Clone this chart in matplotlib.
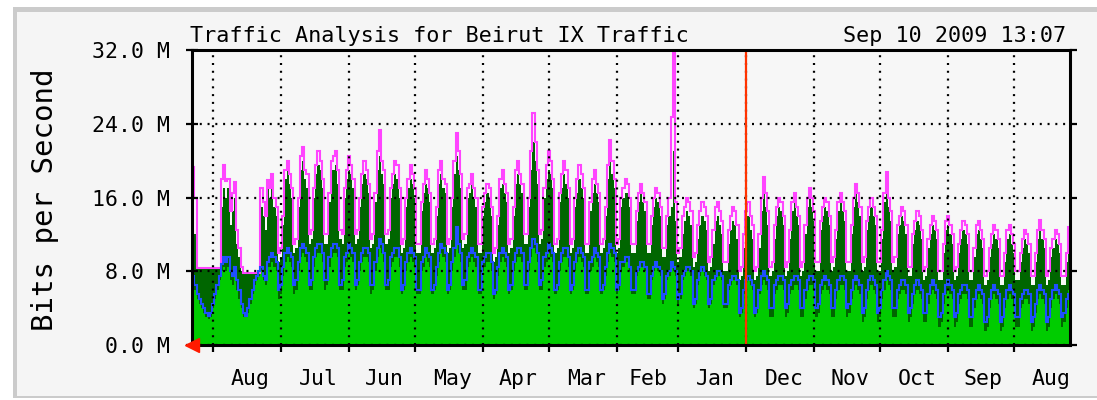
import numpy as np
import matplotlib
matplotlib.use("Agg")
import matplotlib.pyplot as plt
import matplotlib.dates as mdates
from matplotlib.ticker import NullFormatter, FixedLocator
from matplotlib.patches import Rectangle
from datetime import datetime

# ---- data: daily values in Mbit/s, newest day first (left of the chart) ----
max_out = [
    19.3, 16.0, 8.3, 8.3, 8.3, 8.3, 8.3,
    8.3, 8.3, 8.3, 8.3, 8.3, 8.3, 18.0,
    19.5, 17.8, 18.0, 14.5, 16.5, 17.7, 12.5,
    10.5, 8.5, 7.8, 7.8, 7.8, 7.8, 7.8,
    7.8, 7.8, 7.8, 17.0, 15.5, 14.0, 17.9,
    17.0, 18.5, 16.0, 15.0, 10.0, 10.5, 14.0,
    19.0, 20.0, 18.5, 17.0, 11.0, 11.5, 16.0,
    20.5, 21.5, 19.0, 18.5, 12.0, 12.5, 17.0,
    19.5, 21.0, 20.0, 18.0, 12.0, 12.0, 16.5,
    20.0, 20.5, 21.0, 19.0, 12.5, 12.0, 17.0,
    19.0, 20.5, 19.5, 18.0, 12.0, 12.5, 16.0,
    18.5, 20.0, 19.0, 17.5, 11.5, 12.0, 16.5,
    21.0, 23.3, 20.0, 19.0, 12.0, 12.5, 17.0,
    18.5, 20.0, 19.5, 17.0, 11.0, 11.5, 16.0,
    18.0, 19.5, 18.5, 17.0, 11.0, 11.0, 15.5,
    17.5, 19.0, 18.0, 16.5, 11.0, 11.5, 15.0,
    19.0, 20.0, 18.0, 17.5, 11.0, 11.5, 16.0,
    20.0, 23.0, 21.0, 18.5, 11.5, 12.0, 17.0,
    17.5, 18.5, 17.0, 16.0, 11.0, 11.0, 15.0,
    16.5, 17.5, 17.0, 15.0, 10.0, 10.5, 14.0,
    18.0, 19.0, 17.5, 16.5, 11.0, 11.5, 15.0,
    19.0, 20.0, 18.5, 17.5, 12.0, 12.0, 16.0,
    21.0, 25.2, 22.0, 19.0, 12.0, 12.5, 17.0,
    19.5, 21.0, 20.0, 18.0, 11.0, 11.5, 16.5,
    18.5, 20.0, 19.0, 17.0, 11.0, 11.5, 16.0,
    18.0, 19.5, 18.5, 17.0, 11.0, 11.0, 15.5,
    18.0, 19.0, 17.5, 16.5, 11.0, 11.5, 15.0,
    19.5, 22.2, 20.0, 18.0, 11.0, 11.5, 16.0,
    17.0, 18.0, 17.5, 16.0, 11.0, 11.0, 14.5,
    16.5, 17.5, 16.5, 15.5, 11.0, 11.0, 14.0,
    16.0, 17.0, 16.5, 15.0, 10.5, 10.5, 14.0,
    16.0, 24.7, 32.0, 15.5, 10.0, 10.5, 14.0,
    15.0, 16.0, 15.5, 14.5, 9.5, 10.0, 13.0,
    14.5, 15.5, 15.0, 14.0, 9.0, 9.5, 12.5,
    15.0, 15.5, 14.5, 13.5, 9.0, 9.0, 12.5,
    14.0, 15.0, 14.5, 13.0, 8.0, 8.5, 12.0,
    14.5, 15.5, 14.0, 13.0, 8.0, 8.5, 12.0,
    16.0, 18.2, 16.5, 14.5, 8.5, 9.0, 13.0,
    15.0, 16.0, 15.5, 14.0, 8.5, 9.0, 12.5,
    15.5, 16.5, 15.0, 14.0, 8.5, 9.0, 13.0,
    16.0, 17.0, 16.0, 14.5, 9.0, 9.0, 13.5,
    15.0, 16.0, 15.5, 14.0, 9.0, 9.5, 12.5,
    15.5, 16.5, 15.5, 14.5, 9.0, 9.0, 13.0,
    16.0, 17.5, 16.5, 15.0, 9.0, 9.5, 13.5,
    15.0, 16.0, 15.0, 14.0, 9.0, 9.0, 12.5,
    16.5, 18.8, 16.0, 14.5, 9.0, 9.5, 13.0,
    14.0, 15.0, 14.5, 13.0, 8.5, 8.5, 12.0,
    13.5, 14.5, 14.0, 12.5, 8.0, 8.5, 11.5,
    13.0, 14.0, 13.5, 12.5, 8.0, 8.0, 11.0,
    13.5, 14.0, 13.0, 12.0, 8.0, 8.5, 11.0,
    12.5, 13.5, 13.0, 12.0, 8.0, 8.0, 10.5,
    13.0, 13.5, 12.5, 11.5, 7.5, 8.0, 10.5,
    12.0, 13.0, 12.5, 11.5, 7.5, 7.5, 10.0,
    12.5, 13.0, 12.0, 11.0, 8.0, 8.0, 10.0,
    11.5, 12.5, 12.0, 11.0, 7.5, 7.5, 10.0,
    12.5, 13.6, 12.5, 11.5, 7.5, 8.0, 10.5,
    11.5, 12.5, 12.0, 11.0, 7.5, 7.5, 10.0,
    12.8,
]

max_in = [
    13.3, 12.0, 8.3, 8.3, 8.3, 8.3, 8.3,
    8.3, 8.3, 8.3, 8.3, 8.3, 8.3, 15.0,
    17.0, 16.0, 17.0, 13.0, 14.5, 16.0, 11.0,
    9.5, 8.0, 7.8, 7.8, 7.8, 7.8, 7.8,
    7.8, 7.8, 7.8, 15.0, 14.0, 12.5, 17.0,
    16.0, 17.5, 15.0, 14.0, 9.0, 9.5, 13.0,
    18.0, 19.0, 17.5, 16.0, 10.0, 10.5, 15.0,
    19.0, 20.0, 18.0, 17.0, 11.0, 11.5, 16.0,
    18.5, 19.5, 19.0, 17.0, 11.0, 11.0, 15.5,
    19.0, 19.0, 19.5, 17.5, 11.5, 11.0, 16.0,
    18.0, 19.0, 18.5, 17.0, 11.0, 11.5, 15.0,
    17.5, 18.5, 18.0, 16.5, 10.5, 11.0, 15.5,
    19.0, 20.5, 18.5, 17.5, 11.0, 11.5, 16.0,
    17.5, 18.5, 18.0, 16.0, 10.0, 10.5, 15.0,
    17.0, 18.0, 17.5, 16.0, 10.0, 10.0, 14.5,
    16.5, 17.5, 17.0, 15.5, 10.0, 10.5, 14.0,
    17.5, 18.5, 17.0, 16.5, 10.0, 10.5, 15.0,
    18.5, 20.5, 19.0, 17.0, 10.5, 11.0, 16.0,
    16.5, 17.5, 16.0, 15.0, 10.0, 10.0, 14.0,
    15.5, 16.5, 16.0, 14.0, 9.0, 9.5, 13.0,
    17.0, 17.5, 16.5, 15.5, 10.0, 10.5, 14.0,
    17.5, 18.5, 17.5, 16.5, 11.0, 11.0, 15.0,
    19.0, 22.0, 20.0, 17.5, 11.0, 11.5, 16.0,
    18.0, 19.0, 18.5, 17.0, 10.0, 10.5, 15.5,
    17.0, 18.5, 17.5, 16.0, 10.0, 10.5, 15.0,
    16.5, 18.0, 17.0, 16.0, 10.0, 10.0, 14.5,
    16.5, 17.5, 16.5, 15.5, 10.0, 10.5, 14.0,
    18.0, 20.0, 18.5, 17.0, 10.0, 10.5, 15.0,
    16.0, 16.5, 16.5, 15.0, 10.0, 10.0, 13.5,
    15.5, 16.5, 15.5, 14.5, 10.0, 10.0, 13.0,
    15.0, 16.0, 15.5, 14.0, 9.5, 9.5, 13.0,
    14.0, 15.0, 21.0, 13.5, 9.0, 9.5, 12.0,
    13.5, 14.5, 14.0, 13.0, 8.5, 9.0, 11.5,
    13.0, 14.0, 13.5, 12.5, 8.0, 8.5, 11.0,
    13.5, 14.0, 13.0, 12.0, 8.0, 8.0, 11.0,
    12.5, 13.5, 13.0, 11.5, 7.0, 7.5, 10.5,
    13.0, 14.0, 12.5, 11.5, 7.0, 7.5, 10.5,
    14.5, 16.5, 15.0, 13.0, 7.5, 8.0, 11.5,
    14.0, 15.0, 14.5, 13.0, 7.5, 8.0, 11.5,
    14.5, 15.5, 14.0, 13.0, 7.5, 8.0, 12.0,
    15.0, 16.0, 15.0, 13.5, 8.0, 8.0, 12.5,
    14.0, 15.0, 14.5, 13.0, 8.0, 8.5, 11.5,
    14.5, 15.5, 14.5, 13.5, 8.0, 8.0, 12.0,
    15.0, 16.5, 15.5, 14.0, 8.0, 8.5, 12.5,
    14.0, 15.0, 14.0, 13.0, 8.0, 8.0, 11.5,
    15.5, 17.5, 15.0, 13.5, 8.0, 8.5, 12.0,
    13.0, 14.0, 13.5, 12.0, 7.5, 7.5, 11.0,
    12.5, 13.5, 13.0, 11.5, 7.0, 7.5, 10.5,
    12.0, 13.0, 12.5, 11.5, 7.0, 7.0, 10.0,
    12.5, 13.0, 12.0, 11.0, 7.0, 7.5, 10.0,
    11.5, 12.5, 12.0, 11.0, 7.0, 7.0, 9.5,
    12.0, 12.5, 11.5, 10.5, 6.5, 7.0, 9.5,
    11.0, 12.0, 11.5, 10.5, 6.5, 6.5, 9.0,
    11.5, 12.0, 11.0, 10.0, 7.0, 7.0, 9.0,
    10.5, 11.5, 11.0, 10.0, 6.5, 6.5, 9.0,
    11.5, 12.5, 11.5, 10.5, 6.5, 7.0, 9.5,
    10.5, 11.5, 11.0, 10.0, 6.5, 6.5, 9.0,
    11.5,
]

avg_in = [
    7.0, 6.0, 5.0, 4.5, 4.0, 3.5, 3.0,
    2.8, 3.0, 4.0, 5.0, 6.0, 7.0, 8.0,
    8.5, 8.0, 8.5, 7.0, 6.5, 7.5, 6.0,
    5.0, 4.0, 3.0, 3.0, 3.5, 4.5, 5.5,
    6.5, 7.0, 7.5, 8.0, 7.0, 6.5, 8.5,
    8.5, 9.0, 8.5, 8.0, 5.0, 5.5, 7.5,
    9.0, 9.5, 9.0, 8.5, 5.5, 6.0, 8.0,
    9.5, 10.0, 9.5, 9.0, 6.0, 6.0, 8.5,
    9.5, 10.0, 10.0, 9.0, 6.0, 6.5, 8.5,
    9.5, 10.0, 10.0, 9.5, 6.0, 6.0, 8.5,
    9.0, 10.0, 9.5, 9.0, 6.0, 6.5, 8.0,
    9.0, 9.5, 9.5, 9.0, 5.5, 6.0, 8.0,
    9.5, 10.5, 10.0, 9.0, 6.0, 6.0, 8.5,
    9.0, 9.5, 9.5, 8.5, 5.5, 6.0, 8.0,
    9.0, 9.5, 9.0, 8.5, 5.5, 5.5, 8.0,
    8.5, 9.5, 9.0, 8.5, 5.5, 6.0, 7.5,
    9.0, 10.0, 9.5, 9.0, 5.5, 6.0, 8.0,
    9.5, 11.0, 10.0, 9.0, 6.0, 6.0, 8.5,
    9.0, 9.5, 9.0, 8.5, 5.5, 5.5, 8.0,
    8.5, 9.0, 9.0, 8.0, 5.0, 5.5, 7.5,
    9.0, 9.5, 9.0, 8.5, 5.5, 6.0, 8.0,
    9.0, 9.5, 9.5, 9.0, 6.0, 6.0, 8.0,
    9.5, 10.5, 10.0, 9.0, 6.0, 6.0, 8.5,
    9.0, 10.0, 9.5, 9.0, 5.5, 6.0, 8.0,
    9.0, 9.5, 9.5, 8.5, 5.5, 6.0, 8.0,
    9.0, 9.5, 9.0, 8.5, 5.5, 5.5, 8.0,
    8.5, 9.5, 9.0, 8.5, 5.5, 6.0, 7.5,
    9.0, 10.0, 9.5, 9.0, 5.5, 6.0, 8.0,
    8.5, 9.0, 9.0, 8.0, 5.5, 5.5, 7.5,
    8.0, 8.5, 8.5, 8.0, 5.0, 5.0, 7.0,
    8.0, 8.5, 8.0, 7.5, 4.5, 5.0, 7.0,
    7.5, 8.5, 8.0, 7.5, 4.5, 5.0, 7.0,
    7.5, 8.0, 8.0, 7.5, 4.0, 4.5, 6.5,
    7.5, 8.0, 7.5, 7.0, 4.0, 4.5, 6.5,
    7.0, 7.5, 7.5, 7.0, 4.0, 4.0, 6.0,
    6.5, 7.0, 7.0, 6.5, 3.0, 3.5, 5.5,
    6.5, 7.0, 6.5, 6.0, 3.0, 3.5, 5.5,
    6.5, 7.0, 6.5, 6.0, 3.0, 3.0, 5.5,
    6.0, 6.5, 6.5, 6.0, 3.0, 3.5, 5.5,
    6.0, 6.5, 6.5, 6.0, 3.0, 3.0, 5.0,
    6.0, 6.5, 6.5, 6.0, 3.0, 3.5, 5.5,
    6.0, 6.5, 6.0, 5.5, 3.0, 3.0, 5.0,
    6.0, 6.5, 6.5, 6.0, 3.0, 3.5, 5.0,
    6.0, 6.5, 6.0, 5.5, 2.5, 3.0, 5.0,
    6.0, 6.5, 6.0, 5.5, 2.5, 3.0, 5.0,
    6.0, 7.0, 6.5, 6.0, 3.0, 3.0, 5.0,
    5.5, 6.0, 6.0, 5.5, 2.5, 3.0, 4.5,
    5.5, 6.0, 5.5, 5.0, 2.5, 2.5, 4.5,
    5.5, 6.0, 5.5, 5.0, 2.0, 2.5, 4.5,
    5.5, 6.0, 5.5, 5.0, 2.0, 2.5, 4.5,
    5.0, 5.5, 5.5, 5.0, 2.0, 2.0, 4.0,
    5.0, 5.5, 5.0, 4.5, 1.5, 2.0, 4.0,
    5.0, 5.5, 5.0, 4.5, 1.5, 2.0, 4.0,
    5.0, 5.5, 5.0, 4.5, 2.0, 2.0, 4.0,
    4.5, 5.0, 5.0, 4.5, 1.5, 2.0, 3.5,
    5.0, 5.5, 5.0, 4.5, 1.5, 2.0, 4.0,
    5.0, 5.5, 5.0, 4.5, 2.0, 2.5, 4.0,
    6.0,
]

avg_out = [
    7.5, 6.5, 5.5, 5.0, 4.5, 4.0, 3.5,
    3.2, 3.5, 4.5, 5.5, 6.5, 7.5, 8.8,
    9.5, 9.0, 9.5, 8.0, 7.5, 8.5, 7.0,
    6.0, 4.5, 3.5, 3.2, 4.0, 5.0, 6.0,
    7.0, 7.5, 8.0, 8.5, 7.5, 7.0, 9.0,
    9.5, 10.0, 9.5, 9.0, 6.0, 6.5, 8.5,
    10.0, 10.5, 10.0, 9.5, 6.5, 7.0, 9.0,
    10.5, 11.0, 10.5, 10.0, 6.5, 7.0, 9.5,
    10.5, 11.0, 11.0, 10.0, 7.0, 7.0, 9.5,
    10.5, 11.0, 11.0, 10.5, 6.5, 7.0, 9.5,
    10.0, 11.0, 10.5, 10.0, 6.5, 7.0, 9.0,
    10.0, 10.5, 10.5, 10.0, 6.5, 6.5, 9.0,
    10.5, 11.5, 11.0, 10.0, 6.5, 7.0, 9.5,
    10.0, 10.5, 10.5, 9.5, 6.0, 6.5, 9.0,
    10.0, 10.5, 10.0, 9.5, 6.0, 6.0, 9.0,
    9.5, 10.5, 10.0, 9.5, 6.0, 6.5, 8.5,
    10.0, 11.0, 10.5, 10.0, 6.0, 6.5, 9.0,
    10.5, 12.8, 11.0, 10.0, 6.5, 7.0, 9.5,
    10.0, 10.5, 10.0, 9.5, 6.0, 6.0, 9.0,
    9.5, 10.0, 10.0, 9.0, 5.5, 6.0, 8.5,
    10.0, 10.5, 10.0, 9.5, 6.0, 6.5, 9.0,
    10.0, 10.5, 10.5, 10.0, 6.5, 6.5, 9.0,
    10.5, 11.5, 11.0, 10.0, 6.5, 7.0, 9.5,
    10.0, 11.0, 10.5, 10.0, 6.0, 6.5, 9.0,
    10.0, 10.5, 10.5, 9.5, 6.0, 6.5, 9.0,
    10.0, 10.5, 10.0, 9.5, 6.0, 6.0, 9.0,
    9.5, 10.5, 10.0, 9.5, 6.0, 6.5, 8.5,
    10.0, 11.0, 10.5, 10.0, 6.0, 6.5, 9.0,
    9.0, 9.5, 9.5, 8.5, 6.0, 6.0, 8.0,
    8.5, 9.0, 9.0, 8.5, 5.5, 5.5, 7.5,
    8.5, 9.0, 8.5, 8.0, 5.0, 5.5, 7.5,
    8.0, 9.0, 8.5, 8.0, 5.0, 5.5, 7.5,
    8.0, 8.5, 8.5, 8.0, 4.5, 5.0, 7.0,
    8.0, 8.5, 8.0, 7.5, 4.5, 5.0, 7.0,
    7.5, 8.0, 8.0, 7.5, 4.5, 4.5, 6.5,
    7.0, 7.5, 7.5, 7.0, 3.5, 4.0, 6.0,
    7.0, 7.5, 7.0, 6.5, 3.5, 4.0, 6.0,
    7.5, 8.0, 7.5, 7.0, 4.0, 4.0, 6.5,
    7.0, 7.5, 7.5, 7.0, 4.0, 4.5, 6.5,
    7.0, 7.5, 7.5, 7.0, 4.0, 4.0, 6.0,
    7.0, 7.5, 7.5, 7.0, 4.0, 4.5, 6.5,
    7.0, 7.5, 7.0, 6.5, 4.0, 4.0, 6.0,
    7.0, 7.5, 7.5, 7.0, 4.0, 4.5, 6.0,
    7.0, 7.5, 7.0, 6.5, 3.5, 4.0, 6.0,
    7.0, 7.5, 7.0, 6.5, 3.5, 4.0, 6.0,
    7.0, 8.0, 7.5, 7.0, 4.0, 4.0, 6.0,
    6.5, 7.0, 7.0, 6.5, 3.5, 4.0, 5.5,
    6.5, 7.0, 6.5, 6.0, 3.5, 3.5, 5.5,
    6.5, 7.0, 6.5, 6.0, 3.0, 3.5, 5.5,
    6.5, 7.0, 6.5, 6.0, 3.0, 3.5, 5.5,
    6.0, 6.5, 6.5, 6.0, 3.0, 3.0, 5.0,
    6.0, 6.5, 6.0, 5.5, 2.5, 3.0, 5.0,
    6.0, 6.5, 6.0, 5.5, 2.5, 3.0, 5.0,
    6.0, 6.5, 6.0, 5.5, 3.0, 3.0, 5.0,
    5.5, 6.0, 6.0, 5.5, 2.5, 3.0, 4.5,
    6.0, 6.5, 6.0, 5.5, 2.5, 3.0, 5.0,
    6.0, 6.5, 6.0, 5.5, 3.0, 3.5, 5.0,
    5.5,
]

y_ticks = [0, 8, 16, 24, 32]
title_left = "Traffic Analysis for Beirut IX Traffic"
title_right = "Sep 10 2009 13:07"
y_label = "Bits per Second"
end_time = datetime(2009, 9, 10, 13, 7)
year_mark = datetime(2009, 1, 1)

# ---- colours (MRTG defaults) ----
C_IN = "#00cc00"
C_DKIN = "#006600"
C_OUT = "#1f4fff"
C_DKOUT = "#ff44ff"
BG = "#f5f5f5"
MONO = "DejaVu Sans Mono"

W, H = 1097, 400
fig = plt.figure(figsize=(W / 100, H / 100), dpi=100)
fig.patch.set_facecolor("white")

# outer frame
fig.patches.append(Rectangle((13 / W, 2 / H), 1 - 13 / W, (398 - 7) / H,
                             transform=fig.transFigure, facecolor="#cbcbcb",
                             edgecolor="none", zorder=-10))
fig.patches.append(Rectangle((17 / W, 4 / H), 1 - 17 / W, (396 - 12) / H,
                             transform=fig.transFigure, facecolor=BG,
                             edgecolor="none", zorder=-9))

ax = fig.add_axes([192.3 / W, (H - 345) / H, (1070 - 192.3) / W, (345 - 50) / H])
ax.set_zorder(1)
ax.set_facecolor("#f7f7f7")

t_end = mdates.date2num(end_time)
n = len(max_out)
edges = t_end - np.arange(n + 1)[::-1]          # increasing edges
mo = np.array(max_out)[::-1]
mi = np.array(max_in)[::-1]
ai = np.array(avg_in)[::-1]
ao = np.array(avg_out)[::-1]

ax.stairs(mi, edges, fill=True, color=C_DKIN, baseline=0, zorder=1)
ax.stairs(ai, edges, fill=True, color=C_IN, baseline=0, zorder=1.1)
ax.stairs(mo, edges, color=C_DKOUT, baseline=None, lw=1.5, zorder=1.3)
ax.stairs(ao, edges, color=C_OUT, baseline=None, lw=1.5, zorder=1.4)

ax.set_xlim(t_end, t_end - n)
ax.set_ylim(0, 32)

ax.xaxis.set_major_locator(mdates.MonthLocator())
ax.xaxis.set_major_formatter(NullFormatter())
ax.xaxis.set_minor_locator(mdates.MonthLocator(bymonthday=15))
ax.xaxis.set_minor_formatter(mdates.DateFormatter("%b"))
ax.yaxis.set_major_locator(FixedLocator(y_ticks))
ax.set_yticklabels([f"{v:.1f} M" for v in y_ticks])

ax.set_axisbelow(False)
ax.grid(True, which="major", axis="both", color="black",
        linestyle=(0, (0.9, 2.6)), linewidth=1.6)

ax.axvline(mdates.date2num(year_mark), color="#ff3300", lw=1.6, zorder=3)

for s in ax.spines.values():
    s.set_color("black")
    s.set_linewidth(2.2)
    s.set_zorder(4)

ax.tick_params(axis="x", which="major", direction="out", length=5, width=1.6,
               color="black", bottom=True, top=False)
ax.tick_params(axis="x", which="minor", length=0, pad=17, labelsize=15.5,
               labelfontfamily=MONO)
ax.tick_params(axis="y", which="major", direction="inout", length=8, width=1.6,
               left=True, right=False, pad=12, labelsize=15.5,
               labelfontfamily=MONO)

# right-hand outward ticks
axr = ax.twinx()
axr.set_ylim(ax.get_ylim())
axr.yaxis.set_major_locator(FixedLocator(y_ticks))
axr.tick_params(axis="y", direction="out", length=5, width=1.6, labelright=False)
for s in axr.spines.values():
    s.set_visible(False)

ax.plot([0], [0], marker="<", ms=10, color="#ff1a00", mec="#ff1a00",
        transform=ax.transAxes, clip_on=False, zorder=6)

fig.text(190 / W, (H - 42) / H, title_left, ha="left", va="baseline",
         fontsize=15.7, family=MONO)
fig.text(1066 / W, (H - 42) / H, title_right, ha="right", va="baseline",
         fontsize=15.7, family=MONO)
fig.text(45 / W, (H - 200) / H, y_label, rotation=90, ha="center", va="center",
         fontsize=21, family=MONO)

fig.savefig("out.png", dpi=100, facecolor=fig.get_facecolor())
